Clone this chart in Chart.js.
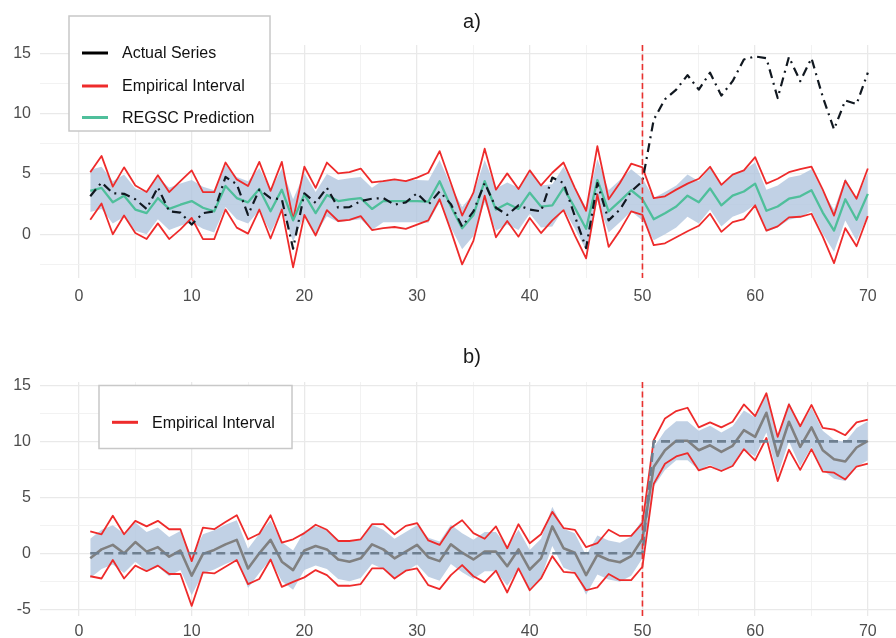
<!DOCTYPE html>
<html>
<head>
<meta charset="utf-8">
<script src="https://cdn.jsdelivr.net/npm/chart.js@4.4.0/dist/chart.umd.min.js"></script>
<style>
    html, body { margin: 0; padding: 0; background: #ffffff; overflow: hidden; }
    canvas { display: block; }
</style>
</head>
<body>
<canvas id="panelA" width="896" height="320"></canvas>
<canvas id="panelB" width="896" height="318"></canvas>
<script>
// time index shared by both panels
var timeIndex = [1, 2, 3, 4, 5, 6, 7, 8, 9, 10,
    11, 12, 13, 14, 15, 16, 17, 18, 19, 20,
    21, 22, 23, 24, 25, 26, 27, 28, 29, 30,
    31, 32, 33, 34, 35, 36, 37, 38, 39, 40,
    41, 42, 43, 44, 45, 46, 47, 48, 49, 50,
    51, 52, 53, 54, 55, 56, 57, 58, 59, 60,
    61, 62, 63, 64, 65, 66, 67, 68, 69, 70];

// panel a)
var actualSeries = [3.15, 4.3, 3.4, 3.35, 2.9, 2.1, 3.9, 1.9, 1.8, 0.8,
    1.75, 1.9, 4.75, 4.15, 1.6, 3.7, 3.0, 2.9, -1.2, 3.4,
    2.6, 3.85, 2.2, 2.25, 2.75, 2.95, 3.0, 2.45, 2.65, 3.4,
    2.45, 3.55, 2.5, 0.65, 1.9, 4.25, 2.2, 1.6, 2.4, 2.05,
    1.9, 4.7, 4.25, 1.5, -1.15, 4.25, 1.15, 2.05, 3.55, 4.4,
    9.5, 11.2, 12.0, 13.2, 12.0, 13.4, 11.5, 12.7, 14.5, 14.75,
    14.6, 11.3, 14.7, 12.7, 14.6, 11.4, 8.7, 11.1, 10.8, 13.4];

var regscPrediction = [3.6, 3.85, 2.65, 3.2, 2.05, 1.75, 3.0, 2.1, 2.45, 2.75,
    2.2, 1.9, 4.0, 3.0, 2.65, 3.75, 1.9, 3.7, 1.15, 3.3,
    1.75, 3.25, 2.75, 2.9, 3.0, 2.1, 2.75, 2.75, 2.75, 2.75,
    2.7, 4.4, 2.3, 0.5, 1.6, 4.4, 2.05, 2.55, 2.1, 3.45,
    2.3, 2.4, 3.85, 2.2, 0.45, 4.5, 1.9, 2.75, 3.65, 2.9,
    1.25, 1.75, 2.3, 3.2, 2.65, 3.8, 2.4, 3.2, 3.55, 4.2,
    1.95, 2.3, 2.95, 3.15, 3.65, 1.8, 0.3, 2.9, 1.2, 3.35];

var upperA = [5.15, 6.5, 3.95, 5.55, 4.05, 3.5, 4.9, 3.5, 4.4, 5.3,
    3.5, 3.5, 5.95, 4.55, 4.0, 6.0, 3.6, 6.0, 1.2, 5.6,
    3.85, 5.95, 5.05, 5.15, 5.45, 4.3, 4.4, 4.55, 4.4, 4.7,
    5.1, 6.9, 4.25, 1.55, 3.45, 7.1, 3.7, 5.05, 3.75, 5.3,
    4.05, 5.1, 5.95, 3.85, 1.95, 7.3, 2.9, 4.25, 5.85, 5.55,
    3.0, 3.15, 3.7, 4.2, 4.6, 5.6, 4.1, 4.95, 5.3, 6.4,
    4.2, 4.6, 5.15, 5.4, 5.6, 3.7, 1.55, 4.45, 2.95, 5.45];

var lowerA = [1.2, 2.55, 0.0, 1.55, 0.1, -0.4, 0.9, -0.4, 0.4, 1.35,
    -0.4, -0.4, 2.05, 0.55, 0.05, 2.05, -0.35, 2.05, -2.75, 1.6,
    -0.1, 2.0, 1.1, 1.2, 1.5, 0.35, 0.5, 0.6, 0.45, 0.8,
    1.15, 2.9, 0.3, -2.5, -0.55, 3.2, -0.25, 1.1, -0.2, 1.35,
    0.1, 1.15, 2.0, -0.1, -2.0, 3.3, -1.05, 0.3, 1.9, 1.6,
    -0.9, -0.75, -0.25, 0.25, 0.7, 1.7, 0.2, 1.0, 1.25, 2.4,
    0.3, 0.65, 1.4, 1.45, 1.7, -0.2, -2.4, 0.5, -1.0, 1.5];

var bandHighA = [5.35, 5.6, 4.4, 4.95, 3.8, 3.5, 4.75, 3.85, 4.2, 4.5,
    3.95, 3.65, 5.75, 4.75, 4.4, 5.5, 3.65, 5.45, 2.9, 5.05,
    3.5, 5.0, 4.5, 4.65, 4.75, 3.85, 4.5, 4.5, 4.5, 4.5,
    4.45, 6.15, 4.05, 2.25, 3.35, 6.15, 3.8, 4.3, 3.85, 5.2,
    4.05, 4.15, 5.6, 3.95, 2.2, 6.25, 3.65, 4.5, 5.4, 4.65,
    3.0, 3.5, 4.05, 4.95, 4.4, 5.55, 4.15, 4.95, 5.3, 5.95,
    3.7, 4.05, 4.7, 4.9, 5.4, 3.55, 2.05, 4.65, 2.95, 5.1];

var bandLowA = [1.85, 2.1, 0.9, 1.45, 0.3, 0.0, 1.25, 0.35, 0.7, 1.0,
    0.45, 0.15, 2.25, 1.25, 0.9, 2.0, 0.15, 1.95, -0.6, 1.55,
    0.0, 1.5, 1.0, 1.15, 1.25, 0.35, 1.0, 1.0, 1.0, 1.0,
    0.95, 2.65, 0.55, -1.25, -0.15, 2.65, 0.3, 0.8, 0.35, 1.7,
    0.55, 0.65, 2.1, 0.45, -1.3, 2.75, 0.15, 1.0, 1.9, 1.15,
    -0.5, 0.0, 0.55, 1.45, 0.9, 2.05, 0.65, 1.45, 1.8, 2.45,
    0.2, 0.55, 1.2, 1.4, 1.9, 0.05, -1.45, 1.15, -0.55, 1.6];

// panel b)
var targetB = [0, 0, 0, 0, 0, 0, 0, 0, 0, 0,
    0, 0, 0, 0, 0, 0, 0, 0, 0, 0,
    0, 0, 0, 0, 0, 0, 0, 0, 0, 0,
    0, 0, 0, 0, 0, 0, 0, 0, 0, 0,
    0, 0, 0, 0, 0, 0, 0, 0, 0, 0,
    10, 10, 10, 10, 10, 10, 10, 10, 10, 10,
    10, 10, 10, 10, 10, 10, 10, 10, 10, 10];

var meanB = [-0.45, 0.35, 0.75, 0.0, 1.0, 0.15, 0.55, -0.3, 0.25, -2.0,
    -0.05, 0.3, 0.8, 1.2, -1.35, 0.0, 1.2, -0.75, -1.5, 0.25,
    0.65, 0.35, -0.55, -0.75, -0.45, 0.8, 0.35, -0.45, 0.15, 0.75,
    -0.35, -0.7, 0.8, 0.05, -0.55, 0.15, 0.15, -1.15, 0.35, -1.45,
    -0.45, 2.4, 0.45, 0.05, -1.95, -0.15, -0.6, -0.8, -0.25, 1.3,
    7.7, 9.2, 10.05, 10.05, 9.2, 9.65, 9.05, 9.6, 11.0, 10.4,
    12.55, 8.7, 11.75, 9.5, 11.25, 9.2, 8.4, 8.2, 9.45, 10.05];

var upperB = [1.95, 1.7, 3.35, 1.7, 2.9, 2.4, 2.9, 2.15, 2.15, -0.7,
    2.3, 2.15, 2.8, 3.4, 1.25, 1.75, 3.4, 0.95, 1.25, 1.8,
    2.55, 2.1, 1.1, 1.1, 1.25, 2.6, 2.6, 1.7, 2.45, 2.7,
    1.15, 0.75, 2.25, 2.95, 1.8, 1.3, 2.4, 0.45, 2.6, 0.9,
    1.7, 3.7, 2.25, 2.1, 0.55, 0.9, 2.1, 1.55, 1.55, 2.7,
    10.1, 12.05, 12.7, 13.0, 11.25, 11.7, 11.25, 11.75, 13.3, 12.25,
    14.3, 10.4, 13.3, 11.35, 13.25, 11.2, 11.05, 10.55, 11.7, 11.95];

var lowerB = [-2.05, -2.25, -0.6, -2.25, -1.1, -1.6, -1.1, -1.85, -1.85, -4.7,
    -1.7, -1.8, -1.2, -0.6, -2.75, -2.3, -0.55, -3.0, -2.55, -2.15,
    -1.5, -1.95, -2.9, -2.9, -2.75, -1.35, -1.35, -2.25, -1.55, -1.35,
    -2.85, -3.2, -1.95, -1.05, -2.05, -2.6, -1.55, -3.5, -1.35, -3.3,
    -2.25, -0.25, -1.65, -1.75, -3.3, -3.05, -1.85, -2.4, -2.4, -1.2,
    6.2, 8.0, 8.65, 8.95, 7.4, 7.75, 7.35, 7.8, 9.3, 8.3,
    10.3, 6.45, 9.25, 7.45, 9.3, 7.3, 7.2, 6.6, 7.75, 8.0];

var bandHighB = [1.3, 2.1, 2.5, 1.75, 2.75, 1.9, 2.3, 1.45, 2.0, -0.25,
    1.7, 2.05, 2.55, 2.95, 0.4, 1.75, 2.95, 1.0, 0.25, 2.0,
    2.4, 2.1, 1.2, 1.0, 1.3, 2.55, 2.1, 1.3, 1.9, 2.5,
    1.4, 1.05, 2.55, 1.8, 1.2, 1.9, 1.9, 0.6, 2.1, 0.3,
    1.3, 4.15, 2.2, 1.8, -0.2, 1.6, 1.15, 0.95, 1.5, 3.05,
    9.45, 10.95, 11.8, 11.8, 10.95, 11.4, 10.8, 11.35, 12.75, 12.15,
    14.3, 10.45, 13.5, 11.25, 13.0, 10.95, 10.15, 9.95, 11.2, 11.8];

var bandLowB = [-2.2, -1.4, -1.0, -1.75, -0.75, -1.6, -1.2, -2.05, -1.5, -3.75,
    -1.8, -1.45, -0.95, -0.55, -3.1, -1.75, -0.55, -2.5, -3.25, -1.5,
    -1.1, -1.4, -2.3, -2.5, -2.2, -0.95, -1.4, -2.2, -1.6, -1.0,
    -2.1, -2.45, -0.95, -1.7, -2.3, -1.6, -1.6, -2.9, -1.4, -3.2,
    -2.2, 0.65, -1.3, -1.7, -3.7, -1.9, -2.35, -2.55, -2.0, -0.45,
    5.95, 7.45, 8.3, 8.3, 7.45, 7.9, 7.3, 7.85, 9.25, 8.65,
    10.8, 6.95, 10.0, 7.75, 9.5, 7.45, 6.65, 6.45, 7.7, 8.3];

// axis ticks
var xTicks = [0, 10, 20, 30, 40, 50, 60, 70];
var xMinorTicks = [5, 15, 25, 35, 45, 55, 65];
var yTicksA = [0, 5, 10, 15];
var yMinorTicksA = [-2.5, 2.5, 7.5, 12.5];
var yTicksB = [-5, 0, 5, 10, 15];
var yMinorTicksB = [-2.5, 2.5, 7.5, 12.5];
var breakPoint = 50;

var RED = '#ee2b2b';
var GREEN = '#4fbf9b';
var BAND = 'rgba(176, 196, 222, 0.78)';
var GRID_MAJOR = '#e9e9e9';
var GRID_MINOR = '#f1f1f1';
var TICK_COLOR = '#4d4d4d';
var FONT = '"Liberation Sans", Arial, sans-serif';

Chart.defaults.font.family = FONT;

function toPoints(values) {
    let pts = [];
    for (let i = 0; i < values.length; i++) {
        pts.push({ x: timeIndex[i], y: values[i] });
    }
    return pts;
}

function lineSet(label, values, color, width, dash) {
    return {
        label: label,
        data: toPoints(values),
        borderColor: color,
        borderWidth: width,
        borderDash: dash || [],
        borderJoinStyle: 'round',
        pointRadius: 0,
        pointHoverRadius: 0,
        tension: 0,
        fill: false
    };
}

function bandSets(lower, upper) {
    let lo = lineSet('band low', lower, 'rgba(0,0,0,0)', 0);
    let hi = lineSet('band high', upper, 'rgba(0,0,0,0)', 0);
    hi.fill = '-1';
    hi.backgroundColor = BAND;
    return [lo, hi];
}

function sortedTicks(major, minor) {
    return major.concat(minor).sort(function (a, b) { return a - b; });
}

function buildScales(yMin, yMax, yMajor, yMinor, xPad, xHeight) {
    let xAll = sortedTicks(xTicks, xMinorTicks);
    let yAll = sortedTicks(yMajor, yMinor);
    return {
        x: {
            type: 'linear',
            min: -3.46,
            max: 72.5,
            afterBuildTicks: function (s) {
                s.ticks = xAll.map(function (v) { return { value: v }; });
            },
            afterFit: function (s) { s.height = xHeight; },
            ticks: {
                autoSkip: false,
                maxRotation: 0,
                padding: xPad,
                color: TICK_COLOR,
                font: { size: 16 },
                callback: function (v) { return xTicks.indexOf(v) >= 0 ? String(v) : ''; }
            },
            grid: {
                drawTicks: false,
                color: function (c) { return xTicks.indexOf(c.tick.value) >= 0 ? GRID_MAJOR : GRID_MINOR; },
                lineWidth: function (c) { return xTicks.indexOf(c.tick.value) >= 0 ? 1.3 : 0.9; }
            },
            border: { display: false }
        },
        y: {
            type: 'linear',
            min: yMin,
            max: yMax,
            afterBuildTicks: function (s) {
                s.ticks = yAll.map(function (v) { return { value: v }; });
            },
            afterFit: function (s) { s.width = 40; },
            ticks: {
                autoSkip: false,
                padding: 9,
                color: TICK_COLOR,
                font: { size: 16 },
                callback: function (v) { return yMajor.indexOf(v) >= 0 ? String(v) : ''; }
            },
            grid: {
                drawTicks: false,
                color: function (c) { return yMajor.indexOf(c.tick.value) >= 0 ? GRID_MAJOR : GRID_MINOR; },
                lineWidth: function (c) { return yMajor.indexOf(c.tick.value) >= 0 ? 1.3 : 0.9; }
            },
            border: { display: false }
        }
    };
}

function drawLegend(ctx, box, items) {
    ctx.save();
    ctx.fillStyle = '#ffffff';
    ctx.fillRect(box.x, box.y, box.w, box.h);
    ctx.strokeStyle = '#c8c8c8';
    ctx.lineWidth = 1.5;
    ctx.strokeRect(box.x, box.y, box.w, box.h);
    ctx.font = '16px ' + FONT;
    ctx.textBaseline = 'middle';
    ctx.textAlign = 'left';
    items.forEach(function (it) {
        ctx.strokeStyle = it.color;
        ctx.lineWidth = 3;
        ctx.beginPath();
        ctx.moveTo(box.x + 13, it.y);
        ctx.lineTo(box.x + 39, it.y);
        ctx.stroke();
        ctx.fillStyle = '#111111';
        ctx.fillText(it.label, box.x + 53, it.y + 1);
    });
    ctx.restore();
}

// dashed red line at the break, panel title and legend
function panelDecor(title, titleY, legendBox, legendItems) {
    return {
        id: 'panelDecor',
        afterDatasetsDraw: function (chart) {
            let ctx = chart.ctx;
            let area = chart.chartArea;
            let xb = chart.scales.x.getPixelForValue(breakPoint);
            ctx.save();
            ctx.strokeStyle = '#e8312f';
            ctx.lineWidth = 1.6;
            ctx.setLineDash([6, 3.5]);
            ctx.beginPath();
            ctx.moveTo(xb, area.top);
            ctx.lineTo(xb, area.bottom);
            ctx.stroke();
            ctx.restore();
        },
        afterDraw: function (chart) {
            let ctx = chart.ctx;
            ctx.save();
            ctx.font = '20px ' + FONT;
            ctx.fillStyle = '#1a1a1a';
            ctx.textAlign = 'center';
            ctx.textBaseline = 'middle';
            ctx.fillText(title, 472, titleY);
            ctx.restore();
            drawLegend(ctx, legendBox, legendItems);
        }
    };
}

function commonOptions(scales, topPad) {
    return {
        responsive: false,
        animation: false,
        devicePixelRatio: 1,
        layout: { padding: { top: topPad, left: 0, right: 0, bottom: 0 } },
        plugins: { legend: { display: false }, tooltip: { enabled: false } },
        scales: scales
    };
}

// panel a)
var bandA = bandSets(bandLowA, bandHighA);
var graficoA = new Chart(document.getElementById('panelA'), {
    type: 'line',
    data: {
        datasets: [
            lineSet('Actual Series', actualSeries, '#111820', 2.2, [9, 5, 2, 5]),
            lineSet('REGSC Prediction', regscPrediction, GREEN, 2.3),
            lineSet('Empirical Interval', upperA, RED, 1.8),
            lineSet('Empirical Interval', lowerA, RED, 1.8),
            bandA[0],
            bandA[1]
        ]
    },
    options: commonOptions(buildScales(-3.63, 15.7, yTicksA, yMinorTicksA, 9, 42), 45),
    plugins: [panelDecor('a)', 22, { x: 69, y: 16, w: 201, h: 115 }, [
        { label: 'Actual Series', color: '#000000', y: 53 },
        { label: 'Empirical Interval', color: RED, y: 86 },
        { label: 'REGSC Prediction', color: GREEN, y: 117.5 }
    ])]
});

// panel b)
var bandB = bandSets(bandLowB, bandHighB);
var graficoB = new Chart(document.getElementById('panelB'), {
    type: 'line',
    data: {
        datasets: [
            lineSet('target', targetB, '#6e7f90', 2.6, [9, 5]),
            lineSet('mean', meanB, '#808080', 2.6),
            lineSet('Empirical Interval', upperB, RED, 1.8),
            lineSet('Empirical Interval', lowerB, RED, 1.8),
            bandB[0],
            bandB[1]
        ]
    },
    options: commonOptions(buildScales(-5.6, 15.3, yTicksB, yMinorTicksB, 6, 22), 62),
    plugins: [panelDecor('b)', 37, { x: 99, y: 65.5, w: 193, h: 63 }, [
        { label: 'Empirical Interval', color: RED, y: 102.3 }
    ])]
});
</script>
</body>
</html>
